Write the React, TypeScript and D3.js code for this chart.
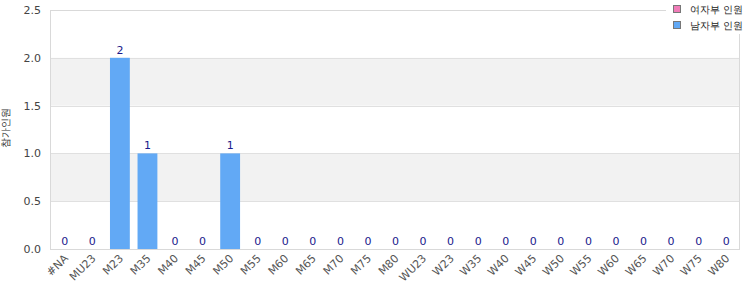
import React from "react";
import * as d3 from "d3";

const categories = ["#NA","MU23","M23","M35","M40","M45","M50","M55","M60","M65","M70","M75","M80","WU23","W23","W35","W40","W45","W50","W55","W60","W65","W70","W75","W80"];
const maleValues = [0,0,2,1,0,0,1,0,0,0,0,0,0,0,0,0,0,0,0,0,0,0,0,0,0];
const yTicks = [0,0.5,1,1.5,2,2.5];
const legendLabels = ["여자부 인원","남자부 인원"];
const legendColors = ["#f07cb8","#62a9f5"];
const yTitle = "참가인원";

export default function App() {
  const W = 750, H = 300;
  const left = 50, right = 740, top = 10, bottom = 249;
  const x = d3.scaleBand<string>().domain(categories).range([left + 1, right]).paddingInner(0.28).paddingOuter(0.14);
  const y = d3.scaleLinear().domain([0, 2.5]).range([bottom, top]);
  const font = "DejaVu Sans, sans-serif";
  const bands: number[][] = [[0.5,1],[1.5,2]];
  return (
    <svg width={W} height={H} style={{position:"absolute",left:0,top:0,fontFamily:font}}>
      <rect x={0} y={0} width={W} height={H} fill="#fff" />
      {bands.map((b,i)=>(
        <rect key={i} x={left} y={y(b[1])} width={right-left} height={y(b[0])-y(b[1])} fill="#f2f2f2" />
      ))}
      {yTicks.map((t,i)=>(
        <line key={i} x1={left} x2={right} y1={Math.round(y(t))+0.5} y2={Math.round(y(t))+0.5} stroke="#e0e0e0" />
      ))}
      <rect x={left+0.5} y={top+0.5} width={right-left-1} height={bottom-top} fill="none" stroke="#d9d9d9" />
      {categories.map((c,i)=>{
        const v = maleValues[i];
        const bx = x(c)!;
        const cx = bx + x.bandwidth()/2;
        return (
          <g key={c}>
            {v>0 && <rect x={bx} y={y(v)} width={x.bandwidth()} height={y(0)-y(v)} fill="#62a9f5" />}
            <text x={cx} y={y(v)-4} textAnchor="middle" fontSize={11} fill="#1a1a8c">{v}</text>
            <text transform={`translate(${cx+4},${bottom+10}) rotate(-45)`} textAnchor="end" fontSize={11} fill="#555">{c}</text>
          </g>
        );
      })}
      {yTicks.map((t,i)=>(
        <text key={i} x={41} y={y(t)+4} textAnchor="end" fontSize={11} fill="#444">{d3.format(".1f")(t)}</text>
      ))}
      <text transform={`translate(9,${(top+bottom)/2 - 2}) rotate(-90)`} textAnchor="middle" fontSize={10} fill="#333">{yTitle}</text>
      <rect x={666} y={0} width={80} height={34} fill="#fff" />
      {legendLabels.map((l,i)=>(
        <g key={l}>
          <rect x={673.5} y={5.5+i*16} width={7} height={7} fill={legendColors[i]} stroke="#777" />
          <text x={690} y={13+i*16} fontSize={10} fill="#222">{l}</text>
        </g>
      ))}
    </svg>
  );
}
